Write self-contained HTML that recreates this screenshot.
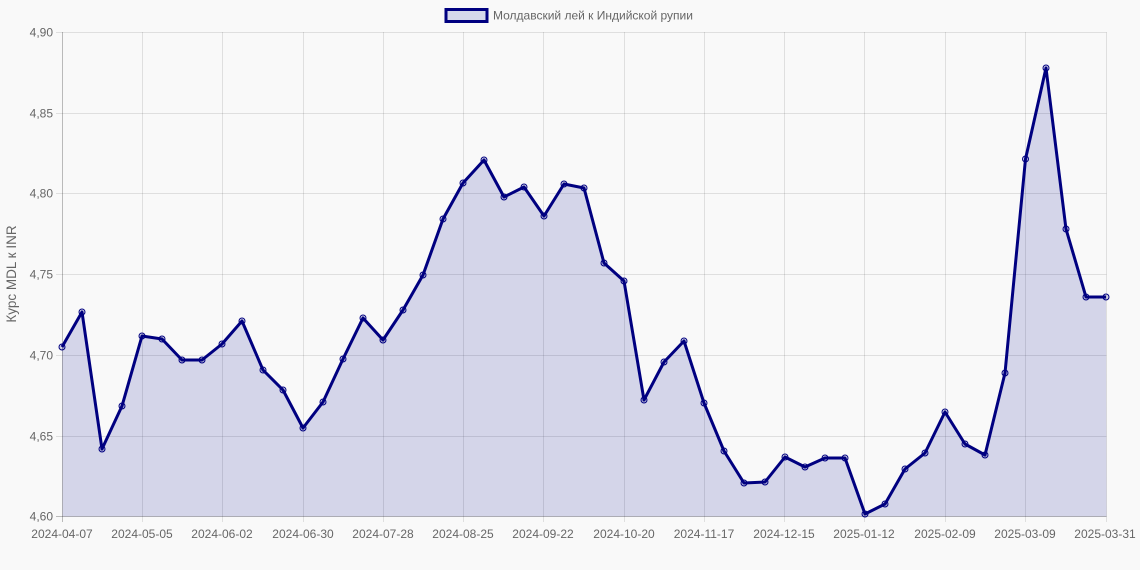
<!DOCTYPE html>
<html><head><meta charset="utf-8"><style>
html,body{margin:0;padding:0;background:#f9f9f9;}
svg{display:block;font-family:"Liberation Sans",Arial,sans-serif;}
</style></head><body>
<svg width="1140" height="570" viewBox="0 0 1140 570" xmlns="http://www.w3.org/2000/svg">
<rect width="1140" height="570" fill="#f9f9f9"/>
<!-- legend -->
<rect x="446" y="9.5" width="41" height="12" fill="#d5d8eb" stroke="#000080" stroke-width="3"/>
<text x="493" y="19.5" font-size="12" fill="#666">Молдавский лей к Индийской рупии</text>
<!-- grid -->
<g stroke="rgba(0,0,0,0.1)" stroke-width="1">
<line x1="56" y1="32.5" x2="1106.5" y2="32.5"/>
<line x1="56" y1="113.5" x2="1106.5" y2="113.5"/>
<line x1="56" y1="193.5" x2="1106.5" y2="193.5"/>
<line x1="56" y1="274.5" x2="1106.5" y2="274.5"/>
<line x1="56" y1="355.5" x2="1106.5" y2="355.5"/>
<line x1="56" y1="436.5" x2="1106.5" y2="436.5"/>
<line x1="142.5" y1="32" x2="142.5" y2="522"/>
<line x1="222.5" y1="32" x2="222.5" y2="522"/>
<line x1="303.5" y1="32" x2="303.5" y2="522"/>
<line x1="383.5" y1="32" x2="383.5" y2="522"/>
<line x1="463.5" y1="32" x2="463.5" y2="522"/>
<line x1="543.5" y1="32" x2="543.5" y2="522"/>
<line x1="624.5" y1="32" x2="624.5" y2="522"/>
<line x1="704.5" y1="32" x2="704.5" y2="522"/>
<line x1="784.5" y1="32" x2="784.5" y2="522"/>
<line x1="864.5" y1="32" x2="864.5" y2="522"/>
<line x1="945.5" y1="32" x2="945.5" y2="522"/>
<line x1="1025.5" y1="32" x2="1025.5" y2="522"/>
<line x1="1106.5" y1="32" x2="1106.5" y2="522"/>
</g>
<!-- area -->
<polygon fill="rgba(0,10,140,0.15)" points="62.5,516.5 62,347 82,312 102,449 122,406 142,336 162,339 182,360 202,360 222,344 242,321 263,370 283,390 303,428 323,402 343,359 363,318 383,340 403,310 423,275 443,219 463,183 484,160 504,197 524,187 544,216 564,184 584,188 604,263 624,281 644,400 664,362 684,341 704,403 724,451 744,483 765,482 785,457 805,467 825,458 845,458 865,514 885,504 905,469 925,453 945,412 965,444 985,455 1005,373 1025.5,159 1046,68 1066,229 1086,297 1106,297 1106.5,516.5"/>
<!-- axes -->
<line x1="62.5" y1="32" x2="62.5" y2="522" stroke="rgba(0,0,0,0.25)"/>
<line x1="56" y1="516.5" x2="1106.5" y2="516.5" stroke="rgba(0,0,0,0.25)"/>
<!-- line -->
<polyline fill="none" stroke="#000080" stroke-width="3" stroke-linejoin="round" points="62,347 82,312 102,449 122,406 142,336 162,339 182,360 202,360 222,344 242,321 263,370 283,390 303,428 323,402 343,359 363,318 383,340 403,310 423,275 443,219 463,183 484,160 504,197 524,187 544,216 564,184 584,188 604,263 624,281 644,400 664,362 684,341 704,403 724,451 744,483 765,482 785,457 805,467 825,458 845,458 865,514 885,504 905,469 925,453 945,412 965,444 985,455 1005,373 1025.5,159 1046,68 1066,229 1086,297 1106,297"/>
<g fill="rgba(0,0,128,0.15)" stroke="#000080" stroke-width="1">
<circle cx="62" cy="347" r="3"/><circle cx="82" cy="312" r="3"/><circle cx="102" cy="449" r="3"/><circle cx="122" cy="406" r="3"/><circle cx="142" cy="336" r="3"/><circle cx="162" cy="339" r="3"/><circle cx="182" cy="360" r="3"/><circle cx="202" cy="360" r="3"/><circle cx="222" cy="344" r="3"/><circle cx="242" cy="321" r="3"/><circle cx="263" cy="370" r="3"/><circle cx="283" cy="390" r="3"/><circle cx="303" cy="428" r="3"/><circle cx="323" cy="402" r="3"/><circle cx="343" cy="359" r="3"/><circle cx="363" cy="318" r="3"/><circle cx="383" cy="340" r="3"/><circle cx="403" cy="310" r="3"/><circle cx="423" cy="275" r="3"/><circle cx="443" cy="219" r="3"/><circle cx="463" cy="183" r="3"/><circle cx="484" cy="160" r="3"/><circle cx="504" cy="197" r="3"/><circle cx="524" cy="187" r="3"/><circle cx="544" cy="216" r="3"/><circle cx="564" cy="184" r="3"/><circle cx="584" cy="188" r="3"/><circle cx="604" cy="263" r="3"/><circle cx="624" cy="281" r="3"/><circle cx="644" cy="400" r="3"/><circle cx="664" cy="362" r="3"/><circle cx="684" cy="341" r="3"/><circle cx="704" cy="403" r="3"/><circle cx="724" cy="451" r="3"/><circle cx="744" cy="483" r="3"/><circle cx="765" cy="482" r="3"/><circle cx="785" cy="457" r="3"/><circle cx="805" cy="467" r="3"/><circle cx="825" cy="458" r="3"/><circle cx="845" cy="458" r="3"/><circle cx="865" cy="514" r="3"/><circle cx="885" cy="504" r="3"/><circle cx="905" cy="469" r="3"/><circle cx="925" cy="453" r="3"/><circle cx="945" cy="412" r="3"/><circle cx="965" cy="444" r="3"/><circle cx="985" cy="455" r="3"/><circle cx="1005" cy="373" r="3"/><circle cx="1025.5" cy="159" r="3"/><circle cx="1046" cy="68" r="3"/><circle cx="1066" cy="229" r="3"/><circle cx="1086" cy="297" r="3"/><circle cx="1106" cy="297" r="3"/>
</g>
<!-- y labels -->
<g font-size="12" fill="#666" text-anchor="end">
<text x="53" y="36.5">4,90</text>
<text x="53" y="117.5">4,85</text>
<text x="53" y="197.5">4,80</text>
<text x="53" y="278.5">4,75</text>
<text x="53" y="359.5">4,70</text>
<text x="53" y="440.5">4,65</text>
<text x="53" y="520.5">4,60</text>
</g>
<text transform="translate(16,274) rotate(-90)" font-size="13.5" fill="#666" text-anchor="middle">Курс MDL к INR</text>
<!-- x labels -->
<g font-size="12" fill="#666" text-anchor="middle">
<text x="62" y="538">2024-04-07</text>
<text x="142" y="538">2024-05-05</text>
<text x="222" y="538">2024-06-02</text>
<text x="303" y="538">2024-06-30</text>
<text x="383" y="538">2024-07-28</text>
<text x="463" y="538">2024-08-25</text>
<text x="543" y="538">2024-09-22</text>
<text x="624" y="538">2024-10-20</text>
<text x="704" y="538">2024-11-17</text>
<text x="784" y="538">2024-12-15</text>
<text x="864" y="538">2025-01-12</text>
<text x="945" y="538">2025-02-09</text>
<text x="1025" y="538">2025-03-09</text>
<text x="1105" y="538">2025-03-31</text>
</g>
</svg>
</body></html>
